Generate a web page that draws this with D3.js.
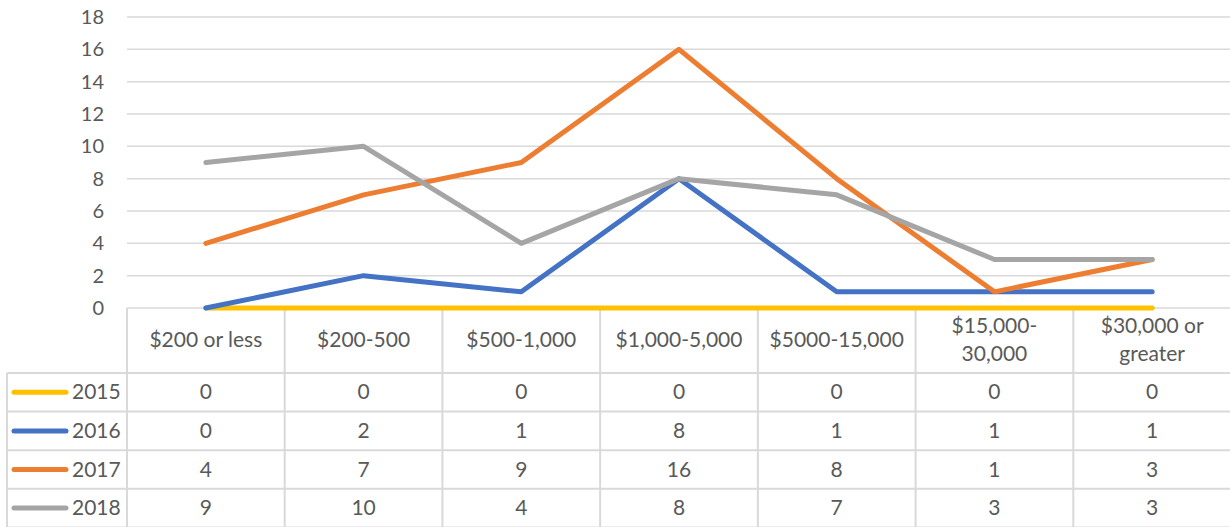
<!DOCTYPE html>
<html>
<head>
<meta charset="utf-8">
<script src="https://cdn.jsdelivr.net/npm/d3@7"></script>
<style>
  body { margin: 0; background: #fff; }
  svg { display: block; font-family: Lato, "Open Sans", sans-serif; }
</style>
</head>
<body>
<div class="chart"></div>
<script>
var categories = ["$200 or less", "$200-500", "$500-1,000", "$1,000-5,000", "$5000-15,000", "$15,000-30,000", "$30,000 or greater"];
var years = ["2015", "2016", "2017", "2018"];
var values2015 = [0, 0, 0, 0, 0, 0, 0];
var values2016 = [0, 2, 1, 8, 1, 1, 1];
var values2017 = [4, 7, 9, 16, 8, 1, 3];
var values2018 = [9, 10, 4, 8, 7, 3, 3];
var yTicks = [0, 2, 4, 6, 8, 10, 12, 14, 16, 18];

var seriesValues = [values2015, values2016, values2017, values2018];
var colors = ["#FFC000", "#4472C4", "#ED7D31", "#A5A5A5"];

var width = 1230, height = 527;
var textColor = "#595959";
var gridColor = "#D9D9D9";
var fontSize = 21;

var svg = d3.select(".chart").append("svg")
  .attr("width", width)
  .attr("height", height);

var x = d3.scaleBand().domain(categories).range([127, 1231]);
var y = d3.scaleLinear().domain([0, 18]).range([308, 17]);

// gridlines
svg.append("g")
  .selectAll("line")
  .data(yTicks)
  .enter()
  .append("line")
  .attr("x1", 127)
  .attr("x2", width)
  .attr("y1", function(d) { return y(d); })
  .attr("y2", function(d) { return y(d); })
  .attr("stroke", gridColor)
  .attr("stroke-width", 1.5);

// y axis labels
var yAxis = d3.axisLeft(y).tickValues(yTicks).tickSize(0).tickPadding(0);
var yg = svg.append("g").attr("transform", "translate(104,0)").call(yAxis);
yg.select(".domain").remove();
yg.selectAll("text")
  .attr("fill", textColor)
  .attr("font-size", 20)
  .attr("font-family", "Lato, 'Open Sans', sans-serif");

// table
var rowTop = 373, rowH = 38.6;
var table = svg.append("g");

// column borders
categories.forEach(function(c, i) {
  table.append("line")
    .attr("x1", x(c)).attr("x2", x(c))
    .attr("y1", 308).attr("y2", height)
    .attr("stroke", gridColor).attr("stroke-width", 2);
});
table.append("line")
  .attr("x1", x.range()[1]).attr("x2", x.range()[1])
  .attr("y1", 308).attr("y2", height)
  .attr("stroke", gridColor).attr("stroke-width", 2);
table.append("line")
  .attr("x1", 7).attr("x2", 7)
  .attr("y1", rowTop).attr("y2", height)
  .attr("stroke", gridColor).attr("stroke-width", 2);

years.forEach(function(yr, i) {
  table.append("line")
    .attr("x1", 7).attr("x2", width)
    .attr("y1", rowTop + i * rowH).attr("y2", rowTop + i * rowH)
    .attr("stroke", gridColor).attr("stroke-width", 2);
});
table.append("line")
  .attr("x1", 7).attr("x2", width)
  .attr("y1", rowTop + years.length * rowH).attr("y2", rowTop + years.length * rowH)
  .attr("stroke", gridColor).attr("stroke-width", 2);

// header labels
function splitLabel(s) {
  if (s.length <= 13) return [s];
  var i = s.indexOf("-");
  if (i >= 0) return [s.slice(0, i + 1), s.slice(i + 1)];
  i = s.lastIndexOf(" ");
  return [s.slice(0, i), s.slice(i + 1)];
}

categories.forEach(function(c) {
  var lines = splitLabel(c);
  var cy = 340;
  var t = table.append("text")
    .attr("x", x(c) + x.bandwidth() / 2)
    .attr("text-anchor", "middle")
    .attr("fill", textColor)
    .attr("font-size", fontSize);
  lines.forEach(function(l, k) {
    t.append("tspan")
      .attr("x", x(c) + x.bandwidth() / 2)
      .attr("y", cy + 7 + (k - (lines.length - 1) / 2) * 28)
      .text(l);
  });
});

// rows
years.forEach(function(yr, i) {
  var cy = rowTop + i * rowH + rowH / 2;
  table.append("line")
    .attr("x1", 14).attr("x2", 66)
    .attr("y1", cy).attr("y2", cy)
    .attr("stroke", colors[i])
    .attr("stroke-width", 5)
    .attr("stroke-linecap", "round");
  table.append("text")
    .attr("x", 72).attr("y", cy + 7)
    .attr("fill", textColor)
    .attr("font-size", fontSize)
    .text(yr);
  table.selectAll(null)
    .data(seriesValues[i])
    .enter()
    .append("text")
    .attr("x", function(d, j) { return x(categories[j]) + x.bandwidth() / 2; })
    .attr("y", cy + 7)
    .attr("text-anchor", "middle")
    .attr("fill", textColor)
    .attr("font-size", fontSize)
    .text(function(d) { return d; });
});

// lines
var line = d3.line()
  .x(function(d, j) { return x(categories[j]) + x.bandwidth() / 2; })
  .y(function(d) { return y(d); });

svg.append("g")
  .selectAll("path")
  .data(seriesValues)
  .enter()
  .append("path")
  .attr("d", line)
  .attr("fill", "none")
  .attr("stroke", function(d, i) { return colors[i]; })
  .attr("stroke-width", 5)
  .attr("stroke-linecap", "round")
  .attr("stroke-linejoin", "round");
</script>
</body>
</html>
